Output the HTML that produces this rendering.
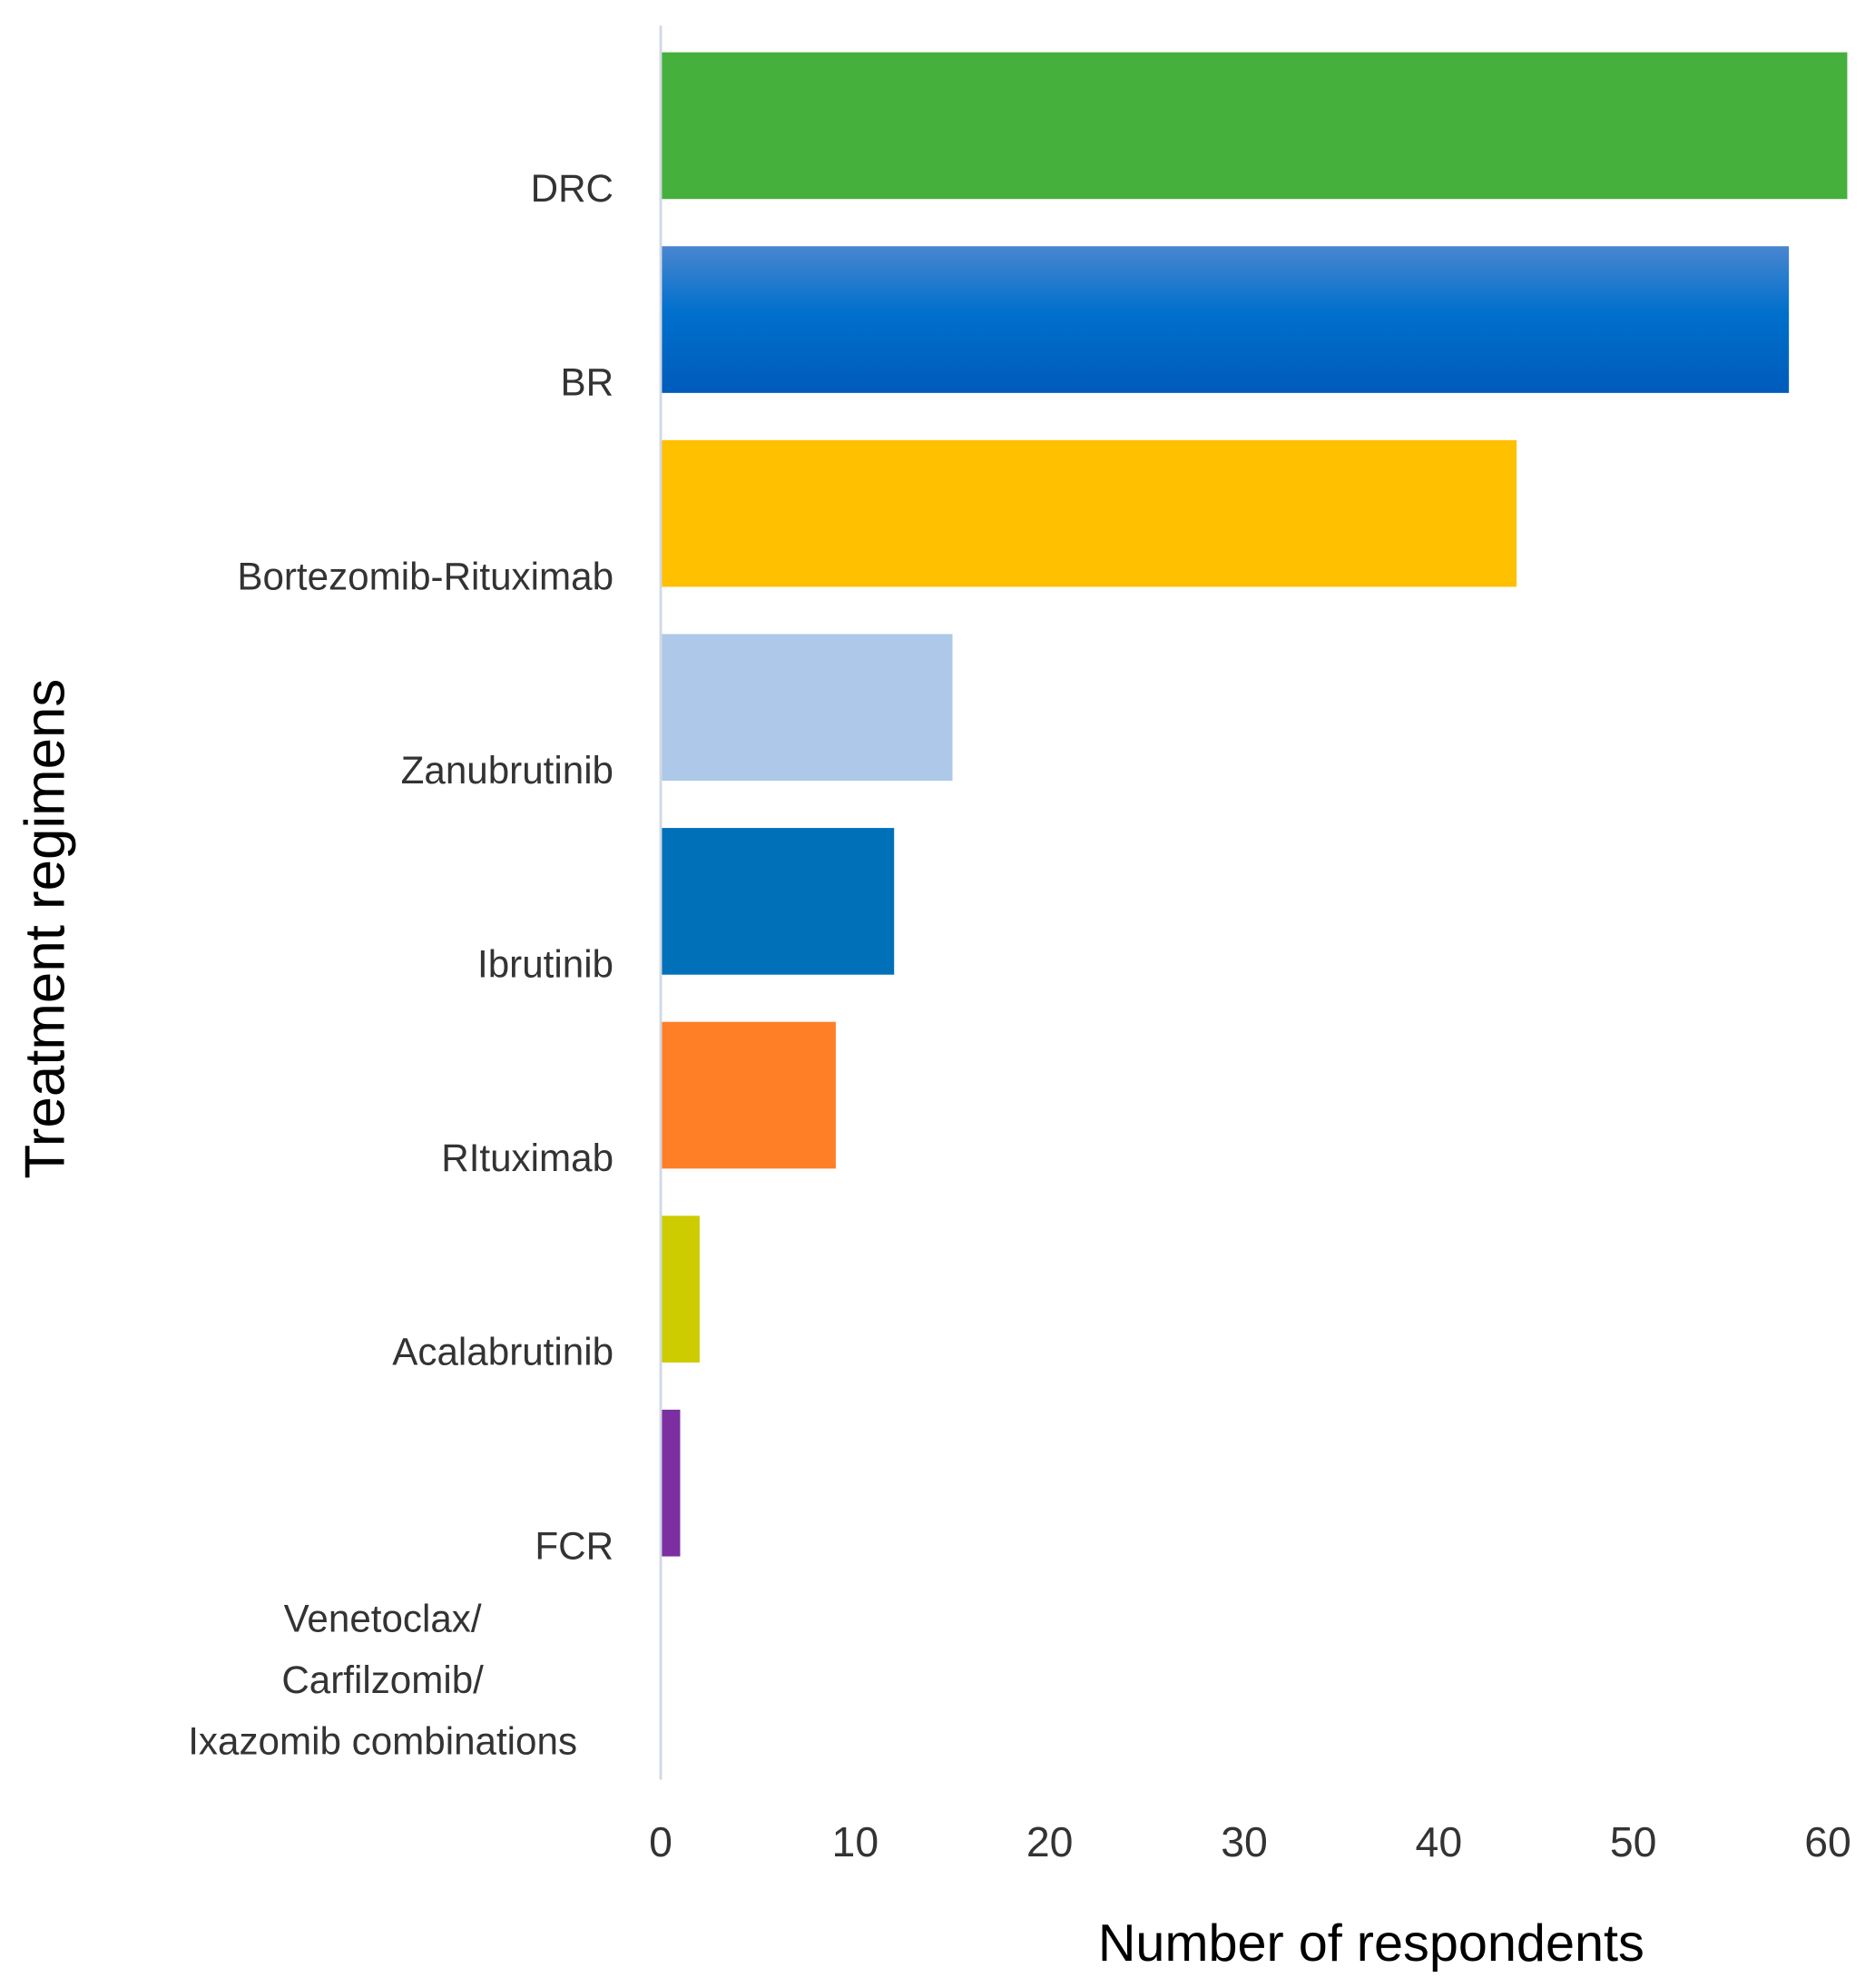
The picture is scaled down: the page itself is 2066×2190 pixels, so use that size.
<!DOCTYPE html>
<html><head><meta charset="utf-8"><style>
html,body{margin:0;padding:0;background:#fff;}
svg{display:block;}
text{font-family:"Liberation Sans",sans-serif;}
</style></head><body>
<svg id="chart" width="2066" height="2190" viewBox="0 0 1470 1558.3" preserveAspectRatio="none" xmlns="http://www.w3.org/2000/svg">
<defs>
<linearGradient id="brGrad" x1="0" y1="0" x2="0" y2="1">
<stop offset="0" stop-color="#4a86d0"/><stop offset="0.45" stop-color="#0070cc"/><stop offset="1" stop-color="#005bbb"/>
</linearGradient>
</defs>
<g id="plot"></g>
<text x="1075" y="1537" font-size="41" text-anchor="middle" fill="#000">Number of respondents</text>
<text transform="translate(50,728) rotate(-90)" font-size="44" text-anchor="middle" fill="#000">Treatment regimens</text>
</svg>
<script>
const categories = ["DRC","BR","Bortezomib-Rituximab","Zanubrutinib","Ibrutinib","RItuximab","Acalabrutinib","FCR","Venetoclax/ Carfilzomib/ Ixazomib combinations"];
const values = [61,58,44,15,12,9,2,1,0];
const colors = ["#45b03c","url(#brGrad)","#ffc000","#adc8e8","#0071b8","#ff7f27","#cccc00","#7b2fa0","#ffffff"];
const ticks = [0,10,20,30,40,50,60];

const NS="http://www.w3.org/2000/svg";
const g=document.getElementById('plot');
const x0=518, xPerUnit=15.25;
const xScale=v=>x0+v*xPerUnit;
const bandTop=22, band=152, barH=115;
const yBand=i=>bandTop+i*band;

function mk(tag,attrs){const e=document.createElementNS(NS,tag);for(const k in attrs)e.setAttribute(k,attrs[k]);g.appendChild(e);return e;}

const axis=mk('line',{x1:x0,y1:20,x2:x0,y2:1395,stroke:'#d0d8e4','stroke-width':2});



categories.forEach((c,i)=>{
  const top=yBand(i)+19;
  if(values[i]>0){
    const r=mk('rect',{x:x0+1,y:top,width:xScale(values[i])-x0-1,height:barH,fill:colors[i]});
    
    
  }
  const lines=c.includes('/ ')?["Venetoclax/","Carfilzomib/","Ixazomib combinations"]:[c];
  lines.forEach((ln,j)=>{
    const t=mk('text',{x:481,y:(lines.length>1?1279+j*48:top+117),'font-size':30,'text-anchor':lines.length>1?'middle':'end',fill:'#333'});
    if(lines.length>1){t.setAttribute('x',300);}
    t.textContent=ln;
    
    
  });
});

ticks.forEach(v=>{
  const t=mk('text',{x:xScale(v),y:1455,'font-size':33,'text-anchor':'middle',fill:'#333'});
  t.textContent=v;
  
  
});
</script>
</body></html>
